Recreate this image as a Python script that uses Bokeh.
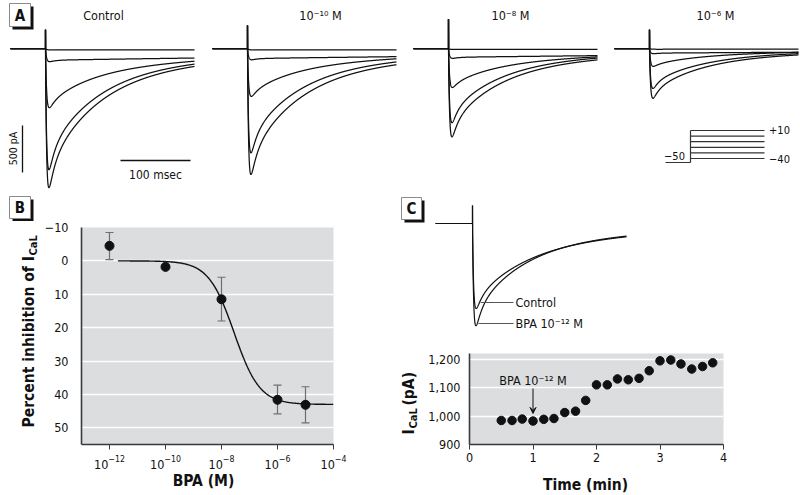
import numpy as np
from bokeh.plotting import figure
from bokeh.models import (Range1d, Label, FixedTicker, NumeralTickFormatter, Whisker,
                          ColumnDataSource, Arrow, VeeHead, TeeHead, BoxAnnotation)
from bokeh.layouts import column, row
from bokeh.embed import file_html
from bokeh.resources import INLINE

FONT = "DejaVu Sans Condensed"
INK = "#111111"
PANEL_BG = "#dcdddf"

# ======================= DATA =======================
# Panel A: peak inward currents (pA) of the five traces in each condition
A_titles = ["Control", "10⁻¹⁰ M", "10⁻⁸ M", "10⁻⁶ M"]
A_peak_control = [1480, 1290, 630, 140, 15]
A_peak_bpa_1e10 = [1340, 1110, 510, 120, 15]
A_peak_bpa_1e8 = [940, 790, 415, 105, 10]
A_peak_bpa_1e6 = [530, 425, 190, 55, 8]
A_transient = [200, 245, 310, 200]          # capacitive spike (pA, outward)
# decay composition of the five traces (rank 0 = largest)
A_frac_fast = [0.30, 0.30, 0.20, 0.25, 0.00]
A_frac_mid = [0.55, 0.55, 0.47, 0.00, 0.00]
A_frac_sus = [0.15, 0.15, 0.33, 0.75, 1.00]
A_tau_mid = [70, 70, 60, 40, 40]
A_tau_sus = [300, 300, 300, 1000, 2000]
SCALE_PA = 500
SCALE_MS = 100
PROTO_HOLD = -50
PROTO_STEPS = [-40, -30, -20, -10, 0, 10]

# Panel B: dose-response
B_conc = [1e-12, 1e-10, 1e-8, 1e-6, 1e-5]
B_inhib = [-4.5, 1.8, 11.5, 41.6, 43.1]
B_err_conc = [1e-12, 1e-8, 1e-6, 1e-5]
B_err_low = [-8.5, 4.9, 37.2, 37.7]
B_err_high = [-0.4, 18.0, 45.8, 48.5]
B_fit_top = 43.0
B_fit_logic50 = -7.55
B_fit_hill = 0.95
B_fit_from = -11.7
B_xticks = [1e-12, 1e-10, 1e-8, 1e-6, 1e-4]
B_yticks = [-10, 0, 10, 20, 30, 40, 50]

# Panel C: example traces
C_names = ["Control", "BPA 10⁻¹² M"]
C_peak = [990, 1190]
C_frac_fast = [0.25, 0.30]
C_frac_mid = [0.55, 0.55]
C_frac_sus = [0.20, 0.15]
C_tau_mid = [75, 70]
C_transient = 210

# Panel C: time course of I_CaL
C_time = [0.5, 0.67, 0.83, 1.0, 1.17, 1.33, 1.5, 1.67, 1.83, 2.0, 2.17,
          2.33, 2.5, 2.67, 2.83, 3.0, 3.17, 3.33, 3.5, 3.67, 3.83]
C_ical = [985, 985, 990, 983, 989, 992, 1013, 1018, 1056, 1111, 1111,
          1132, 1129, 1134, 1161, 1196, 1199, 1185, 1167, 1176, 1189]
C_bpa_time = 1.0
C_xticks = [0, 1, 2, 3, 4]
C_yticks = [900, 1000, 1100, 1200]


# ======================= HELPERS =======================
def geom(left, top, w, h, mbl=0, mbr=0, mbt=0, mbb=0):
    return dict(left=left, top=top, w=w, h=h, mbl=mbl, mbr=mbr, mbt=mbt, mbb=mbb,
                fl=left + mbl, fb=top + h - mbb)


def make_fig(g, **kw):
    p = figure(width=g['w'], height=g['h'], output_backend="svg", toolbar_location=None,
               min_border_left=g['mbl'], min_border_right=g['mbr'],
               min_border_top=g['mbt'], min_border_bottom=g['mbb'], **kw)
    p.outline_line_color = None
    p.border_fill_color = "white"
    p.background_fill_color = "white"
    return p


def blank_fig(g, **kw):
    p = make_fig(g, x_range=Range1d(0, 1), y_range=Range1d(0, 1),
                 x_axis_location=None, y_axis_location=None, **kw)
    p.grid.visible = False
    return p


def add_text(p, g, x, y, text, size, bold=False, align="center", baseline="middle",
             angle=0.0, color=INK):
    p.add_layout(Label(x=x - g['fl'], y=g['fb'] - y, x_units="screen", y_units="screen",
                       text=text, text_font=FONT, text_font_size=f"{size}px",
                       text_font_style="bold" if bold else "normal", text_align=align,
                       text_baseline=baseline, angle=angle, text_color=color))


def letter_box(p, g, x0, y0, x1, y1, letter, shadow=3):
    def box(d, fill, line):
        p.add_layout(BoxAnnotation(
            left=x0 + d - g['fl'], right=x1 + d - g['fl'],
            top=g['fb'] - (y0 + d), bottom=g['fb'] - (y1 + d),
            left_units="screen", right_units="screen", top_units="screen", bottom_units="screen",
            fill_color=fill, fill_alpha=1.0, line_color=line, line_alpha=1.0, line_width=1))
    box(shadow, INK, None)
    box(0, "white", "#8a8a8a")
    add_text(p, g, (x0 + x1) / 2.0, (y0 + y1) / 2.0 + 0.5, letter, 15, bold=True)


def make_trace(peak, f_fast, f_mid, f_sus, tau_mid, tau_sus, spike, t_pre, t_end):
    t = np.linspace(0.15, t_end, 900)
    rise = 1.0 - np.exp(-t / 1.7)
    decay = f_fast * np.exp(-t / 8.0) + f_mid * np.exp(-t / tau_mid) + f_sus * np.exp(-t / tau_sus)
    g = rise * decay
    g = g / g.max()
    tt = np.concatenate([[t_pre, 0.0, 0.0], t])
    yy = np.concatenate([[0.0, 0.0, spike], -peak * g])
    return tt, yy


def style_axes(p):
    for ax in p.axis:
        ax.axis_line_color = "#3a3a3a"
        ax.axis_line_width = 1.6
        ax.major_label_text_font = FONT
        ax.major_label_text_font_size = "12.5px"
        ax.major_label_text_color = INK
        ax.minor_tick_line_color = None
    p.yaxis.major_tick_line_color = None
    p.xaxis.major_tick_line_color = "#3a3a3a"
    p.xaxis.major_tick_out = 5
    p.xaxis.major_tick_in = 0
    p.xgrid.grid_line_color = None
    p.ygrid.grid_line_color = "white"
    p.ygrid.grid_line_width = 1.5
    p.background_fill_color = PANEL_BG


# ======================= PANEL A =======================
K_MS = SCALE_MS / 70.0     # ms per pixel
K_PA = SCALE_PA / 47.0     # pA per pixel
A_BASE = 48
gA = geom(0, 0, 800, 190)
pA = make_fig(gA, x_range=Range1d(0, 800 * K_MS),
              y_range=Range1d((A_BASE - 190) * K_PA, A_BASE * K_PA),
              x_axis_location=None, y_axis_location=None)
pA.grid.visible = False
ax_ = lambda px: px * K_MS
ay_ = lambda py: (A_BASE - py) * K_PA

A_peaks = [A_peak_control, A_peak_bpa_1e10, A_peak_bpa_1e8, A_peak_bpa_1e6]
A_step_px = [45, 247, 448, 649]
A_title_px = [103, 320, 510, 715]
xs, ys = [], []
for i, peaks in enumerate(A_peaks):
    for j, pk in enumerate(peaks):
        t, y = make_trace(pk, A_frac_fast[j], A_frac_mid[j], A_frac_sus[j], A_tau_mid[j],
                          A_tau_sus[j], A_transient[i], -35 * K_MS, 149 * K_MS)
        xs.append(list(t + ax_(A_step_px[i])))
        ys.append(list(y))
pA.multi_line(xs, ys, line_color=INK, line_width=1.25)
for i, title in enumerate(A_titles):
    add_text(pA, gA, A_title_px[i], 15, title, 12.5)

# scale bars
pA.segment(x0=[ax_(22)], y0=[ay_(125)], x1=[ax_(22)], y1=[ay_(125) - SCALE_PA],
           line_color=INK, line_width=1.3)
pA.segment(x0=[ax_(120)], y0=[ay_(160)], x1=[ax_(120) + SCALE_MS], y1=[ay_(160)],
           line_color=INK, line_width=1.3)
add_text(pA, gA, 12, 148, "500 pA", 10.5, angle=np.pi / 2)
add_text(pA, gA, 155, 174, "100 msec", 12)

# voltage protocol
proto_py = lambda mv: 158 - (mv - PROTO_STEPS[0]) * 0.56
pA.segment(x0=[ax_(665)], y0=[ay_(162)], x1=[ax_(690)], y1=[ay_(162)], line_color="#333", line_width=1.2)
pA.segment(x0=[ax_(690)], y0=[ay_(162)], x1=[ax_(690)], y1=[ay_(proto_py(PROTO_STEPS[-1]))],
           line_color="#333", line_width=1.2)
pA.segment(x0=[ax_(690)] * len(PROTO_STEPS), y0=[ay_(proto_py(v)) for v in PROTO_STEPS],
           x1=[ax_(764)] * len(PROTO_STEPS), y1=[ay_(proto_py(v)) for v in PROTO_STEPS],
           line_color="#333", line_width=1.2)
add_text(pA, gA, 674, 155, "−50", 11)
add_text(pA, gA, 779, 129, "+10", 11)
add_text(pA, gA, 779, 158, "−40", 11)
letter_box(pA, gA, 9, 3, 30, 26, "A")

# ======================= PANEL B =======================
gBtop = geom(0, 190, 400, 31)
pBtop = blank_fig(gBtop)
letter_box(pBtop, gBtop, 9, 196, 30, 218, "B")

gBL = geom(0, 221, 41, 251, mbt=6, mbb=28)
pBL = blank_fig(gBL)
add_text(pBL, gBL, 28, 427, "Percent inhibition of I", 15.5, bold=True, align="left", angle=np.pi / 2)
add_text(pBL, gBL, 33, 255, "CaL", 11, bold=True, align="left", angle=np.pi / 2)

gB = geom(41, 221, 359, 251, mbl=35, mbr=67, mbt=6, mbb=28)
pB = make_fig(gB, x_axis_type="log", x_range=Range1d(1e-13, 1e-4), y_range=Range1d(55, -10))
style_axes(pB)
pB.xaxis.ticker = FixedTicker(ticks=B_xticks)
pB.yaxis.ticker = FixedTicker(ticks=B_yticks)
pB.yaxis.major_label_overrides = {-10: "−10"}
pB.yaxis.major_label_standoff = 7
pB.xaxis.major_label_standoff = 5

whisk = Whisker(source=ColumnDataSource(dict(base=B_err_conc, lower=B_err_low, upper=B_err_high)),
                base="base", lower="lower", upper="upper", dimension="height",
                line_color="#6e6e6e", line_width=1.2, level="underlay",
                upper_head=TeeHead(size=8, line_color="#6e6e6e", line_width=1.2),
                lower_head=TeeHead(size=8, line_color="#6e6e6e", line_width=1.2))
pB.add_layout(whisk)
fit_x = np.logspace(B_fit_from, np.log10(B_xticks[-1]), 300)
fit_y = B_fit_top / (1.0 + 10 ** ((B_fit_logic50 - np.log10(fit_x)) * B_fit_hill))
pB.line(fit_x, fit_y, line_color=INK, line_width=1.4)
pB.scatter(B_conc, B_inhib, size=9, color=INK)

gBbot = geom(0, 472, 400, 23)
pBbot = blank_fig(gBbot)
add_text(pBbot, gBbot, 203, 480, "BPA (M)", 15.5, bold=True)

# ======================= PANEL C (traces) =======================
C_BASE = 223
K_PA_C = C_peak[0] / 85.0
gCt = geom(400, 190, 400, 150)
pCt = make_fig(gCt, x_range=Range1d(400 * K_MS, 800 * K_MS),
               y_range=Range1d((C_BASE - 340) * K_PA_C, (C_BASE - 190) * K_PA_C),
               x_axis_location=None, y_axis_location=None)
pCt.grid.visible = False
C_step = 472 * K_MS
label_py = [302, 323]
cxs, cys = [], []
lead_x0, lead_x1, lead_y = [], [], []
for k in range(2):
    t, y = make_trace(C_peak[k], C_frac_fast[k], C_frac_mid[k], C_frac_sus[k], C_tau_mid[k],
                      300, C_transient, -37 * K_MS, 154 * K_MS)
    cxs.append(list(t + C_step))
    cys.append(list(y))
    target = (C_BASE - label_py[k]) * K_PA_C
    i0 = int(np.argmin(y))
    i1 = i0 + int(np.argmax(y[i0:] >= target))
    lead_x0.append(t[i1] + C_step + 1.5)
    lead_x1.append(513 * K_MS)
    lead_y.append(target)
pCt.multi_line(cxs, cys, line_color=INK, line_width=1.2)
pCt.segment(x0=lead_x0, y0=lead_y, x1=lead_x1, y1=lead_y, line_color="#555", line_width=1.0)
for k in range(2):
    add_text(pCt, gCt, 515, label_py[k], C_names[k], 12.5, align="left")
letter_box(pCt, gCt, 401, 197, 421, 219, "C")

# ======================= PANEL C (time course) =======================
gCL = geom(400, 340, 25, 132, mbt=13, mbb=28)
pCL = blank_fig(gCL)
add_text(pCL, gCL, 408, 434, "I", 15.5, bold=True, align="left", angle=np.pi / 2)
add_text(pCL, gCL, 413, 428, "CaL", 11, bold=True, align="left", angle=np.pi / 2)
add_text(pCL, gCL, 408, 405, "(pA)", 15.5, bold=True, align="left", angle=np.pi / 2)

gCb = geom(425, 340, 375, 132, mbl=41, mbr=77, mbt=13, mbb=28)
pCb = make_fig(gCb, x_range=Range1d(0, 4), y_range=Range1d(900, 1222))
style_axes(pCb)
pCb.xaxis.ticker = FixedTicker(ticks=C_xticks)
pCb.yaxis.ticker = FixedTicker(ticks=C_yticks)
pCb.yaxis.formatter = NumeralTickFormatter(format="0,0")
pCb.yaxis.major_label_standoff = 3
pCb.xaxis.major_label_standoff = 3
pCb.scatter(C_time, C_ical, size=8.5, color=INK)
pCb.add_layout(Arrow(end=VeeHead(size=6, line_color=INK, fill_color=INK, line_width=1),
                     x_start=C_bpa_time, y_start=1098, x_end=C_bpa_time, y_end=1010,
                     line_color=INK, line_width=1))
pCb.add_layout(Label(x=C_bpa_time, y=1127, text="BPA 10⁻¹² M", text_font=FONT, text_font_size="12.5px",
                     text_align="center", text_baseline="middle", text_color=INK))

gCbot = geom(400, 472, 400, 23)
pCbot = blank_fig(gCbot)
add_text(pCbot, gCbot, 585, 484, "Time (min)", 15.5, bold=True)

left_col = column(pBtop, row(pBL, pB), pBbot)
right_col = column(pCt, row(pCL, pCb), pCbot)
layout = column(pA, row(left_col, right_col))
open("out.html", "w").write(file_html(layout, INLINE, title="BPA and L-type Ca current"))
